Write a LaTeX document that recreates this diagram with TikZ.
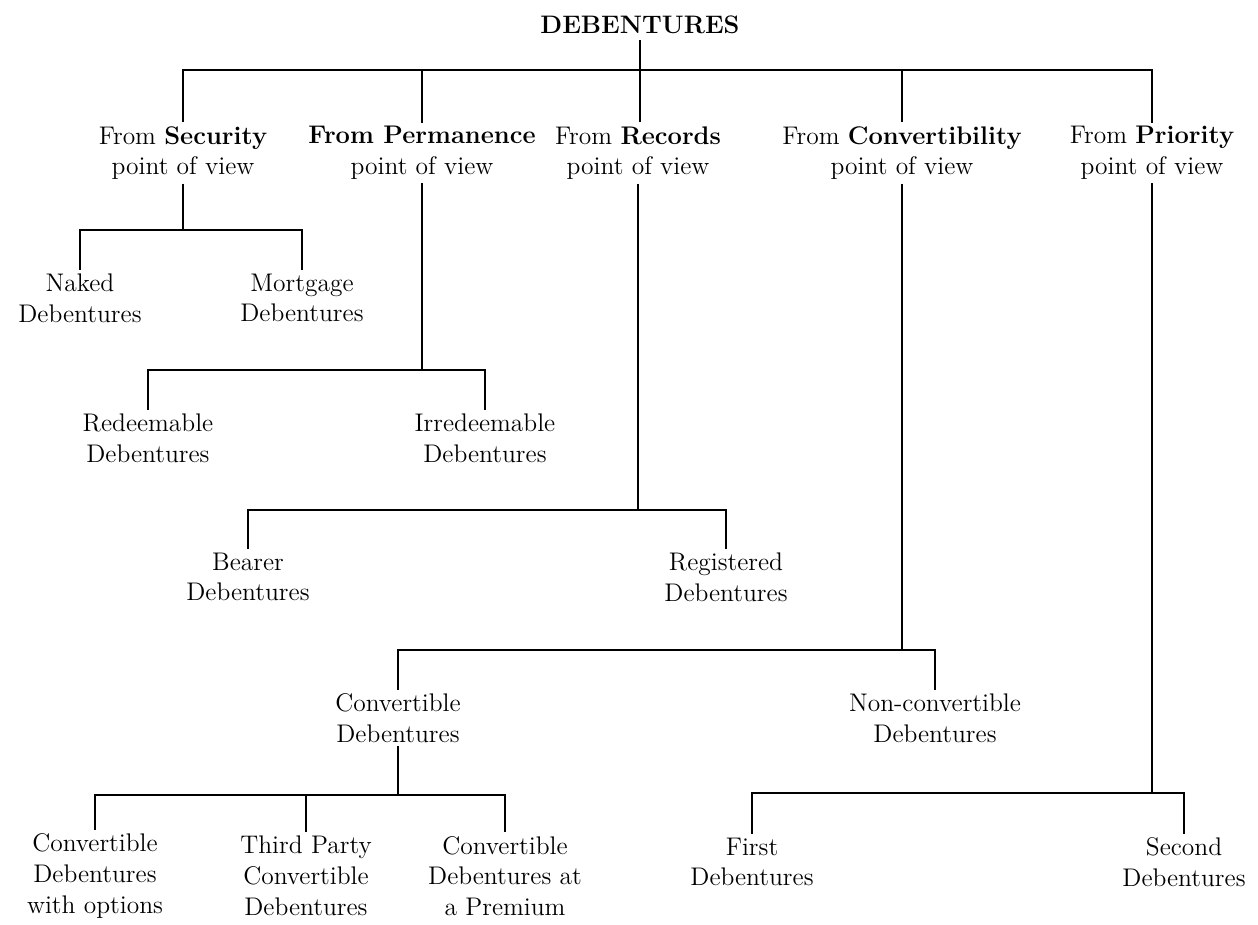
\documentclass[tikz,border=0pt]{standalone}
\begin{document}
\begin{tikzpicture}[x=0.02cm, y=-0.02cm,
    voce/.style={align=center, font=\fontsize{14.5}{17.5}\selectfont, inner sep=2pt},
    ramo/.style={line width=1.1pt}]
    \useasboundingbox (0,0) rectangle (1258,924);

    % Titolo
    \node[font=\fontsize{14.4}{17}\selectfont\bfseries] (deb) at (640,25) {DEBENTURES};

    % Punti di vista
    \node[voce] (secur) at (183,153) {From \textbf{Security}\\point of view};
    \node[voce] (perm) at (422,153) {\textbf{From Permanence}\\point of view};
    \node[voce] (recs) at (638,153) {From \textbf{Records}\\point of view};
    \node[voce] (conv) at (902,153) {From \textbf{Convertibility}\\point of view};
    \node[voce] (prio) at (1152,153) {From \textbf{Priority}\\point of view};

    % Tipi
    \node[voce] (naked) at (80,298) {Naked\\Debentures};
    \node[voce] (mortg) at (302,298) {Mortgage\\Debentures};
    \node[voce] (redeem) at (148,438) {Redeemable\\Debentures};
    \node[voce] (irred) at (485,438) {Irredeemable\\Debentures};
    \node[voce] (bearer) at (248,577) {Bearer\\Debentures};
    \node[voce] (regist) at (726,577) {Registered\\Debentures};
    \node[voce] (convd) at (398,718) {Convertible\\Debentures};
    \node[voce] (nonconv) at (935,718) {Non-convertible\\Debentures};
    \node[voce] (opts) at (95,876) {Convertible\\Debentures\\with options};
    \node[voce] (third) at (306,876) {Third Party\\Convertible\\Debentures};
    \node[voce] (prem) at (505,876) {Convertible\\Debentures at\\a Premium};
    \node[voce] (first) at (752,862) {First\\Debentures};
    \node[voce] (second) at (1184,862) {Second\\Debentures};

    % Livelli delle sbarre
    \coordinate (b0) at (0,70);
    \coordinate (b1) at (0,230);
    \coordinate (b2) at (0,370);
    \coordinate (b3) at (0,510);
    \coordinate (b4) at (0,650);
    \coordinate (b5) at (0,795);
    \coordinate (b6) at (0,793);

    % Rami
    \draw[ramo] (deb.south) -- (deb.south |- recs.north);
    \draw[ramo] (secur.north) |- (prio.north |- b0) -- (prio.north);
    \draw[ramo] (perm.north) -- (perm.north |- b0);
    \draw[ramo] (conv.north) -- (conv.north |- b0);

    \draw[ramo] (secur.south) -- (secur.south |- b1);
    \draw[ramo] (naked.north) |- (mortg.north |- b1) -- (mortg.north);

    \draw[ramo] (perm.south) -- (perm.south |- b2);
    \draw[ramo] (redeem.north) |- (irred.north |- b2) -- (irred.north);

    \draw[ramo] (recs.south) -- (recs.south |- b3);
    \draw[ramo] (bearer.north) |- (regist.north |- b3) -- (regist.north);

    \draw[ramo] (conv.south) -- (conv.south |- b4);
    \draw[ramo] (convd.north) |- (nonconv.north |- b4) -- (nonconv.north);

    \draw[ramo] (convd.south) -- (convd.south |- b5);
    \draw[ramo] (opts.north) |- (prem.north |- b5) -- (prem.north);
    \draw[ramo] (third.north) -- (third.north |- b5);

    \draw[ramo] (prio.south) -- (prio.south |- b6);
    \draw[ramo] (first.north) |- (second.north |- b6) -- (second.north);
\end{tikzpicture}
\end{document}
